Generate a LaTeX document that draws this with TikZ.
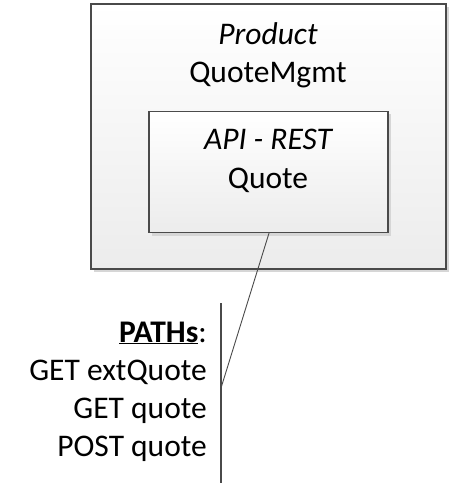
\documentclass[tikz,border=0pt]{standalone}
\usepackage{fontspec}
\setmainfont{Carlito}
\usetikzlibrary{shadows}

\begin{document}
\begin{tikzpicture}[x=1pt, y=-1pt]
    \definecolor{borderColour}{HTML}{4A4A4A}
    \definecolor{fillColour}{HTML}{ECECEC}
    \definecolor{shadowColour}{HTML}{D6D6D6}

    \tikzset{
        box/.style={draw=borderColour, line width=1.3pt, top color=white, bottom color=fillColour,
            drop shadow={shadow xshift=3pt, shadow yshift=-3pt, fill=shadowColour, opacity=1},
            inner sep=0pt},
        txt/.style={anchor=base, inner sep=0pt, font=\fontsize{31.5}{38}\selectfont},
        rtxt/.style={txt, anchor=base east}
    }

    % Fix the picture size
    \useasboundingbox (0,0) rectangle (466,494);

    % Draw the boxes
    \node[box, minimum width=355pt, minimum height=265pt] (product) at (268.5,136.5) {};
    \node[box, minimum width=239pt, minimum height=121pt] (api) at (268.5,172) {};

    % Box texts
    \node[txt] (productType) at (268,45) {\itshape Product};
    \node[txt] (productName) at (268,83) {QuoteMgmt};
    \node[txt] (apiType) at (268,150) {\itshape API - REST};
    \node[txt] (apiName) at (268,188) {Quote};

    % Draw the bracket of paths
    \coordinate (brTop) at (221,303);
    \coordinate (brBot) at (221,483);
    \coordinate (brMid) at (221,388);
    \draw[borderColour, line width=1.2pt] (brTop) -- (brBot);

    % Label the paths
    \node[rtxt] (pathsHead) at (207,342) {\textbf{\underline{PATHs}}:};
    \foreach \txt [count=\i] in {GET extQuote, GET quote, POST quote}
        \node[rtxt] (path\i) at (207,342+38*\i) {\txt};

    % Connect the api to the bracket
    \draw[borderColour, line width=0.9pt] (api.south -| 269,0) -- (brMid);

\end{tikzpicture}
\end{document}
